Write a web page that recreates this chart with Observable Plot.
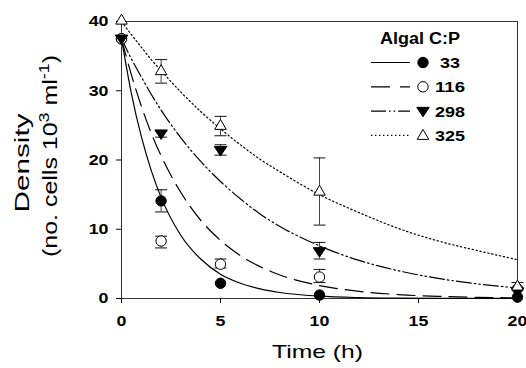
<!DOCTYPE html>
<html><head><meta charset="utf-8">
<script src="https://cdn.jsdelivr.net/npm/d3@7"></script>
<script src="https://cdn.jsdelivr.net/npm/@observablehq/plot@0.6"></script>
<style>body{margin:0;background:#fff} svg{display:block}</style>
</head><body><div id="chart"></div>
<script>
// ---- data ----
const series = ["33", "116", "298", "325"];
const legendTitle = "Algal C:P";
const xTicks = [0, 5, 10, 15, 20];
const yTicks = [0, 10, 20, 30, 40];

const obsTime = [0, 2, 5, 10, 20];
const obs33  = [37.5, 14.1, 2.2, 0.5, 0.2];
const obs116 = [37.5, 8.3, 4.95, 3.1, 1.4];
const obs298 = [37.5, 23.8, 21.4, 6.8, 1.0];
const obs325 = [40.2, 32.9, 25.0, 15.5, 1.8];

const errLo33  = [null, 12.5, null, null, null];
const errHi33  = [null, 15.7, null, null, null];
const errLo116 = [null, 7.3, 4.4, 2.3, null];
const errHi116 = [null, 9.0, 5.7, 4.2, null];
const errLo298 = [null, 23.3, 20.7, 5.7, null];
const errHi298 = [null, 24.2, 22.2, 8.1, null];
const errLo325 = [null, 31.1, 23.5, 10.6, 1.3];
const errHi325 = [null, 34.5, 26.3, 20.3, 2.3];

// fitted curves
const fitTime = [0, 0.5, 1, 1.5, 2, 3, 4, 5, 6, 7, 8, 10, 12, 14, 16, 18, 20];
const fit33  = [37.5, 29.6, 23.4, 18.5, 14.6, 9.1, 5.7, 3.5, 2.2, 1.4, 0.87, 0.34, 0.13, 0.05, 0.02, 0.01, 0.0];
const fit116 = [37.5, 32.3, 27.8, 23.9, 20.6, 15.3, 11.3, 8.4, 6.2, 4.6, 3.4, 1.87, 1.03, 0.56, 0.31, 0.17, 0.09];
const fit298 = [37.5, 34.6, 32.0, 29.5, 27.2, 23.2, 19.8, 16.9, 14.4, 12.2, 10.4, 7.6, 5.5, 4.0, 2.9, 2.1, 1.53];
const fit325 = [40.0, 38.1, 36.3, 34.5, 32.9, 29.8, 27.0, 24.5, 22.2, 20.1, 18.3, 15.0, 12.4, 10.1, 8.3, 6.9, 5.6];

// ---- build tables ----
const obsBy = {"33": obs33, "116": obs116, "298": obs298, "325": obs325};
const loBy = {"33": errLo33, "116": errLo116, "298": errLo298, "325": errLo325};
const hiBy = {"33": errHi33, "116": errHi116, "298": errHi298, "325": errHi325};
const fitBy = {"33": fit33, "116": fit116, "298": fit298, "325": fit325};

const obsRows = series.flatMap(s => obsTime.map((t, i) => ({s, t, v: obsBy[s][i]})));
const errRows = series.flatMap(s => obsTime.map((t, i) => ({s, t, lo: loBy[s][i], hi: hiBy[s][i]}))).filter(d => d.lo != null);
const fitRows = series.flatMap(s => fitTime.map((t, i) => ({s, t, v: fitBy[s][i]})));

// ---- symbols ----
const triDown = {draw(ctx, size) { const r = Math.sqrt(size / Math.PI);
  ctx.moveTo(0, 1.15 * r); ctx.lineTo(-1.25 * r, -0.75 * r); ctx.lineTo(1.25 * r, -0.75 * r); ctx.closePath(); }};
const triUp = {draw(ctx, size) { const r = Math.sqrt(size / Math.PI);
  ctx.moveTo(0, -1.2 * r); ctx.lineTo(-1.15 * r, 0.8 * r); ctx.lineTo(1.15 * r, 0.8 * r); ctx.closePath(); }};
const capSym = {draw(ctx, size) { const r = Math.sqrt(size / Math.PI); ctx.moveTo(-r, 0); ctx.lineTo(r, 0); }};

const style = {
  "33":  {dash: null,              symbol: "circle", fill: "black", r: 5.2},
  "116": {dash: "18,8",            symbol: "circle", fill: "white", r: 5.2},
  "298": {dash: "15,3,1.6,3,1.6,3", symbol: triDown, fill: "black", r: 5},
  "325": {dash: "1.4,2.6",         symbol: triUp,   fill: "white", r: 5}
};

const FONT = "'Liberation Sans', Arial, Helvetica, sans-serif";

const marks = [
  Plot.frame({stroke: "#333", strokeWidth: 1}),
  Plot.axisX({ticks: xTicks, tickSize: 5, tickPadding: 11, label: null, fontWeight: "bold", fontSize: 15.5, tickFormat: d => String(d)}),
  Plot.axisY({ticks: yTicks, tickSize: 5, tickPadding: 8, label: null, fontWeight: "bold", fontSize: 15.5, tickFormat: d => String(d)}),
  Plot.ruleX(errRows, {x: "t", y1: "lo", y2: "hi", stroke: "#444", strokeWidth: 1}),
  Plot.dot(errRows, {x: "t", y: "lo", symbol: capSym, r: 6, stroke: "#111", strokeWidth: 1}),
  Plot.dot(errRows, {x: "t", y: "hi", symbol: capSym, r: 6, stroke: "#111", strokeWidth: 1}),
  ...series.map(s => Plot.line(fitRows.filter(d => d.s === s), {x: "t", y: "v", curve: "monotone-x",
      stroke: "black", strokeWidth: 1.2, strokeDasharray: style[s].dash || undefined})),
  ...series.map(s => Plot.dot(obsRows.filter(d => d.s === s), {x: "t", y: "v", symbol: style[s].symbol,
      r: style[s].r, fill: style[s].fill, stroke: "black", strokeWidth: 1}))
];

const chart = Plot.plot({
  width: 526, height: 368,
  marginLeft: 121, marginRight: 9, marginTop: 21, marginBottom: 70,
  x: {domain: [0, 20]},
  y: {domain: [0, 40]},
  style: {fontFamily: FONT, fontSize: "15px", color: "black", background: "white", overflow: "visible"},
  marks
});

const svg = d3.select(chart);
// widen the bold digits the way the reference draws them
svg.selectAll('g[aria-label="x-axis tick label"] text, g[aria-label="y-axis tick label"] text').each(function() {
  const n = this.textContent.length;
  d3.select(this).attr("textLength", n * 9.9).attr("lengthAdjust", "spacingAndGlyphs");
});

// axis titles
svg.append("text").attr("x", 317.5).attr("y", 358).attr("text-anchor", "middle")
  .attr("font-family", FONT).attr("font-weight", "normal").attr("font-size", 19)
  .attr("textLength", 91).attr("lengthAdjust", "spacingAndGlyphs")
  .text("Time (h)");
svg.append("text").attr("transform", "translate(28.5,163) rotate(-90)").attr("text-anchor", "middle")
  .attr("font-family", FONT).attr("font-weight", "normal").attr("font-size", 21)
  .attr("textLength", 99).attr("lengthAdjust", "spacingAndGlyphs")
  .text("Density");
const yl2 = svg.append("text").attr("transform", "translate(57,156) rotate(-90)").attr("text-anchor", "middle")
  .attr("font-family", FONT).attr("font-weight", "normal").attr("font-size", 21)
  .attr("textLength", 202).attr("lengthAdjust", "spacingAndGlyphs");
yl2.append("tspan").text("(no. cells 10");
yl2.append("tspan").attr("font-size", 15).attr("dy", -8).text("3");
yl2.append("tspan").attr("dy", 8).text(" ml");
yl2.append("tspan").attr("font-size", 15).attr("dy", -8).text("-1");
yl2.append("tspan").attr("dy", 8).text(")");

// legend
const lg = svg.append("g").attr("font-family", FONT);
lg.append("text").attr("x", 420).attr("y", 43.5).attr("text-anchor", "middle").attr("font-weight", "bold")
  .attr("font-size", 16).attr("textLength", 80).attr("lengthAdjust", "spacingAndGlyphs").text(legendTitle);
series.forEach((s, i) => {
  const cy = 62.5 + i * 24.3;
  const st = style[s];
  lg.append("line").attr("x1", 371).attr("x2", 410).attr("y1", cy).attr("y2", cy)
    .attr("stroke", "black").attr("stroke-width", 1.2).attr("stroke-dasharray", st.dash ? (s === "116" ? "19,10" : st.dash) : null);
  const sym = typeof st.symbol === "string" ? d3.symbolCircle : st.symbol;
  lg.append("path").attr("transform", `translate(423,${cy})`)
    .attr("d", d3.symbol(sym, Math.PI * st.r * st.r)())
    .attr("fill", st.fill).attr("stroke", "black").attr("stroke-width", 1);
  lg.append("text").attr("x", 450).attr("y", cy + 5.5).attr("font-weight", "bold").attr("font-size", 15.5)
    .attr("textLength", s.length * 10).attr("lengthAdjust", "spacingAndGlyphs").text(s);
});

document.getElementById("chart").appendChild(chart);
</script>
</body></html>
